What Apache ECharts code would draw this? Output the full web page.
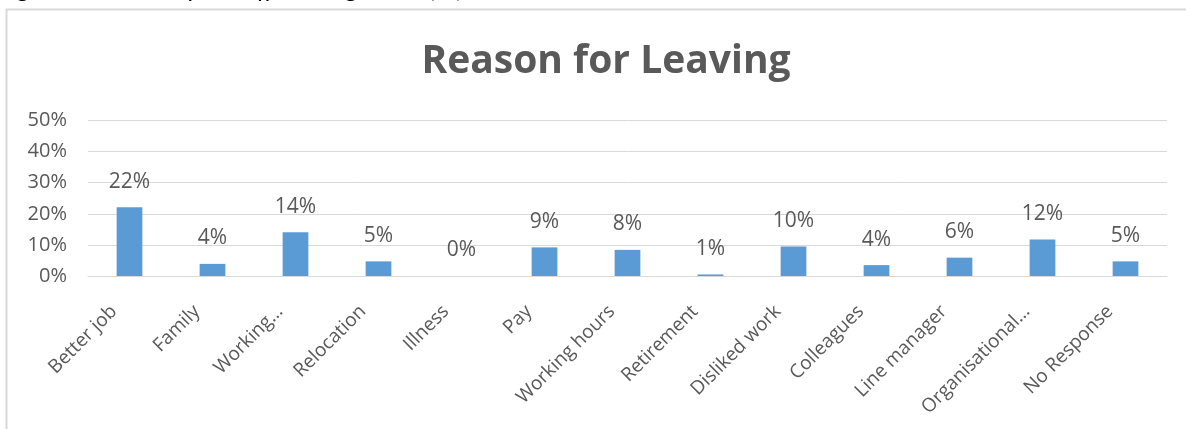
<!DOCTYPE html>
<html>
<head>
<meta charset="utf-8">
<script src="https://cdn.jsdelivr.net/npm/echarts@6/dist/echarts.min.js"></script>
<style>
html,body{margin:0;padding:0;background:#fff;}
#chart{width:1186px;height:429px;}
</style>
</head>
<body>
<div id="chart"></div>
<script>
const titleText = 'Reason for Leaving';
const captionText = 'Figure 6: Reason for staff leaving CCN (%)';
const categories = ['Better job','Family','Working…','Relocation','Illness','Pay','Working hours','Retirement','Disliked work','Colleagues','Line manager','Organisational…','No Response'];
const values = [22.1, 3.9, 14.1, 4.7, 0, 9.2, 8.4, 0.5, 9.5, 3.5, 5.9, 11.7, 4.7];
const labels = ['22%','4%','14%','5%','0%','9%','8%','1%','10%','4%','6%','12%','5%'];
const yTicks = [0, 10, 20, 30, 40, 50];

const chart = echarts.init(document.getElementById('chart'), null, {renderer:'canvas'});
const txt = '#595959';
chart.setOption({
  animation:false,
  backgroundColor:'#ffffff',
  title:{
    text:titleText, left:601, top:37, textAlign:'center',
    textStyle:{fontFamily:'Open Sans', fontWeight:'bold', fontSize:39, color:txt}
  },
  graphic:[
    {type:'rect', shape:{x:6.5, y:9.5, width:1300, height:600}, style:{fill:'none', stroke:'#d9d9d9', lineWidth:2}, z:-1},
    {type:'text', left:-6, top:-26, style:{text:captionText, font:'italic 27px "Liberation Serif"', fill:'#000'}}
  ],
  grid:{left:88, right:19, top:120.5, bottom:153, containLabel:false},
  xAxis:{
    type:'category', data:categories,
    axisLine:{lineStyle:{color:'#d9d9d9', width:1}},
    axisTick:{show:false},
    axisLabel:{rotate:45, color:txt, fontFamily:'Open Sans', fontSize:19, margin:17, interval:0, padding:[0,22,0,0]}
  },
  yAxis:{
    type:'value', min:0, max:50, interval:10,
    axisLine:{show:false}, axisTick:{show:false},
    splitLine:{lineStyle:{color:'#d9d9d9', width:1}},
    axisLabel:{formatter:v=>yTicks.includes(v)?v+'%':'', color:txt, fontFamily:'Open Sans', fontSize:20, margin:21}
  },
  series:[{
    type:'bar', data:values, barWidth:'31%',
    itemStyle:{color:'#5b9bd5'},
    label:{show:true, position:'top', distance:15, color:txt, fontFamily:'Open Sans', fontSize:21,
      formatter:p=>labels[p.dataIndex]}
  }]
});
</script>
</body>
</html>
